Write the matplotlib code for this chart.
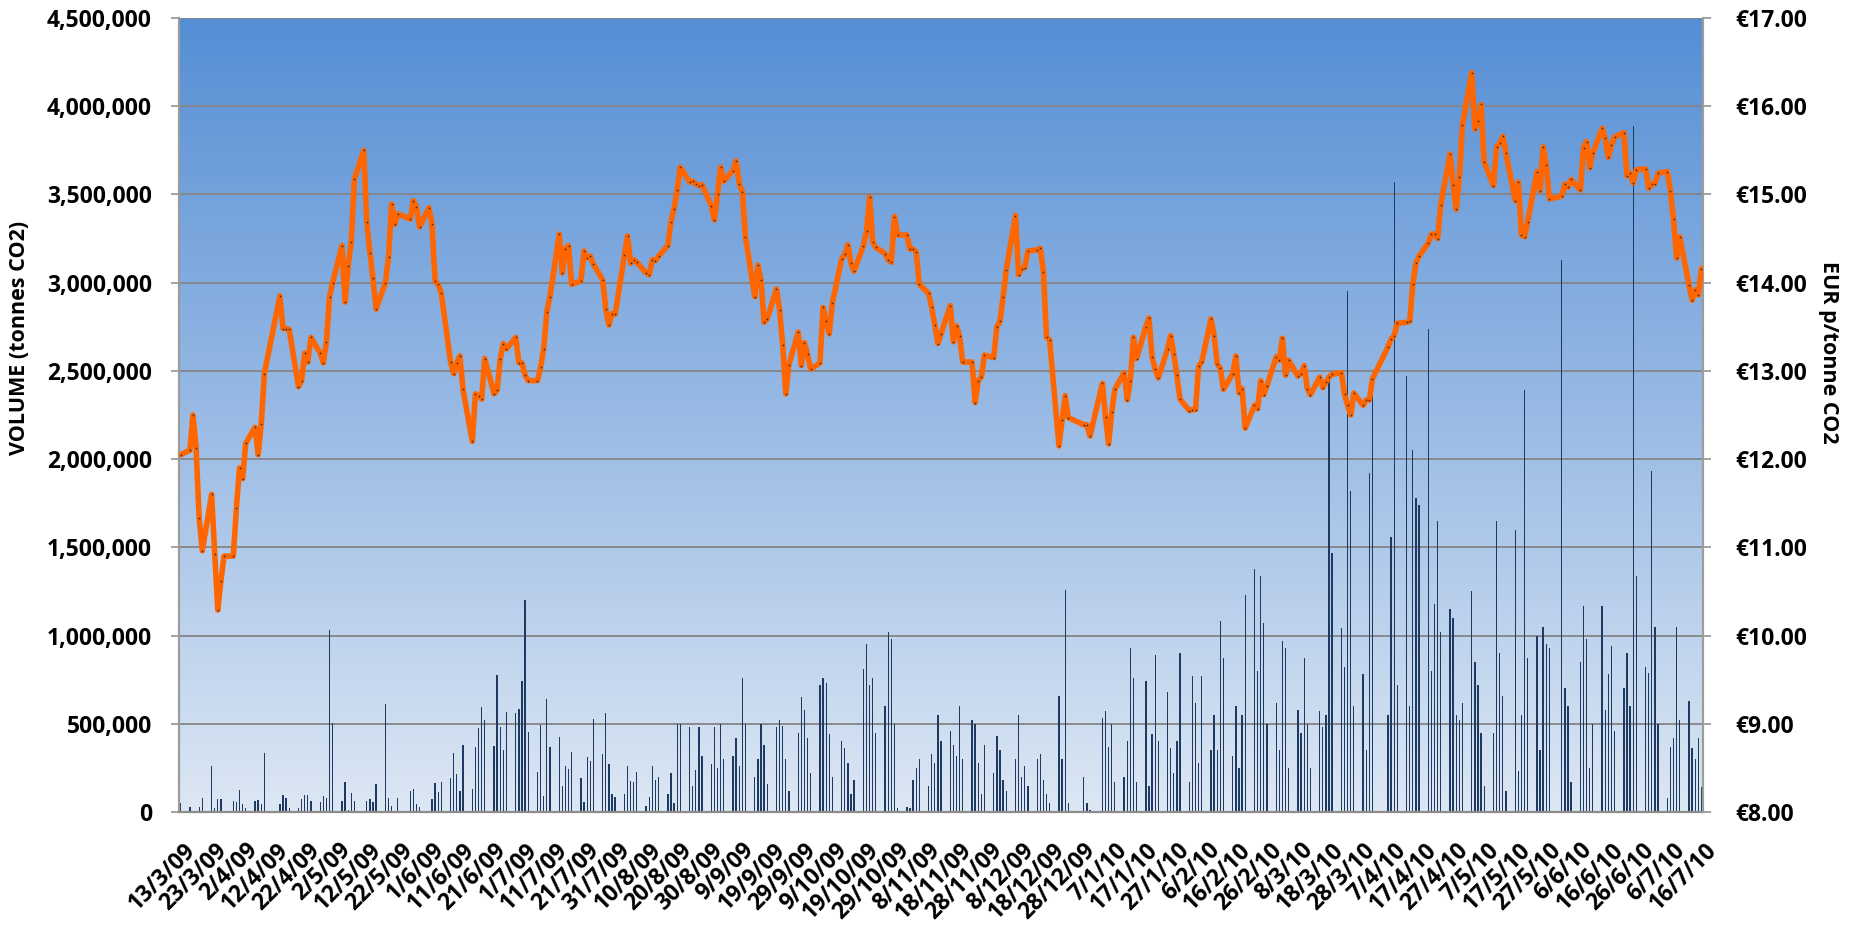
import numpy as np
import pandas as pd
import matplotlib
matplotlib.use("Agg")
import matplotlib.pyplot as plt
import matplotlib.dates as mdates
import matplotlib.transforms as mtransforms
from matplotlib.ticker import FuncFormatter
from matplotlib import font_manager

# pick a bold-capable family
_fams = {f.name: [] for f in font_manager.fontManager.ttflist}
for f in font_manager.fontManager.ttflist:
    _fams[f.name].append(f.weight)
FAMILY = 'DejaVu Sans'
for cand in ['Open Sans', 'Lato', 'Noto Sans', 'Roboto', 'Liberation Sans']:
    ws = _fams.get(cand, [])
    if any((w == 'bold') or (isinstance(w, int) and w >= 600) for w in ws):
        FAMILY = cand
        break
plt.rcParams['font.family'] = [FAMILY, 'DejaVu Sans']
plt.rcParams['font.weight'] = 'bold'

# ---------------- data (trading days, grouped per month) ----------------
start_date = '2009-03-13'
end_date = '2010-07-16'
holidays = ['2009-04-10', '2009-04-13', '2009-05-25', '2009-12-25', '2009-12-28',
            '2010-01-01', '2010-04-02', '2010-04-05', '2010-05-31']

# price, EUR per tonne CO2
price_2009_03 = [12.05, 12.10, 12.50, 12.13, 11.33, 10.96, 11.60, 10.93, 10.29, 10.62, 10.90, 10.90, 11.45]
price_2009_04 = [11.90, 11.78, 12.18, 12.36, 12.05, 12.40, 12.97, 13.85, 13.48, 13.48, 13.47, 12.82, 12.89,
                 13.20, 13.10, 13.38, 13.20, 13.09, 13.33, 13.84]
price_2009_05 = [14.00, 14.42, 13.78, 14.19, 14.46, 15.17, 15.50, 14.69, 14.34, 14.05, 13.70, 14.00, 14.29,
                 14.89, 14.66, 14.78, 14.72, 14.93, 14.86, 14.63]
price_2009_06 = [14.85, 14.67, 14.02, 13.98, 13.88, 13.10, 12.97, 13.09, 13.17, 12.79, 12.20, 12.74, 12.72,
                 12.68, 13.14, 12.74, 12.78, 13.14, 13.31, 13.25, 13.38, 13.09]
price_2009_07 = [13.09, 12.95, 12.89, 12.89, 13.04, 13.25, 13.67, 13.84, 14.55, 14.11, 14.38, 14.42, 13.98,
                 14.02, 14.36, 14.28, 14.30, 14.21, 14.03, 13.70, 13.52, 13.65, 13.64]
price_2009_08 = [14.31, 14.53, 14.22, 14.26, 14.23, 14.11, 14.09, 14.26, 14.25, 14.30, 14.42, 14.69, 14.84,
                 15.05, 15.31, 15.14, 15.15, 15.12, 15.10, 15.11, 14.87]
price_2009_09 = [14.71, 15.00, 15.31, 15.15, 15.27, 15.38, 15.12, 15.03, 14.52, 13.84, 14.20, 14.03, 13.55,
                 13.59, 13.93, 13.69, 13.29, 12.74, 13.07, 13.44, 13.06, 13.32]
price_2009_10 = [13.19, 13.02, 13.09, 13.72, 13.56, 13.42, 13.77, 14.27, 14.32, 14.43, 14.22, 14.13, 14.42,
                 14.58, 14.97, 14.46, 14.40, 14.33, 14.26, 14.23, 14.75, 14.54]
price_2009_11 = [14.54, 14.38, 14.38, 14.35, 13.98, 13.88, 13.72, 13.52, 13.31, 13.42, 13.74, 13.33, 13.51,
                 13.39, 13.10, 13.10, 12.64, 12.89, 12.93, 13.18, 13.15]
price_2009_12 = [13.50, 13.56, 13.84, 14.14, 14.76, 14.09, 14.16, 14.17, 14.36, 14.37, 14.39, 14.12, 13.38,
                 13.35, 12.15, 12.44, 12.72, 12.47, 12.39, 12.39, 12.26]
price_2010_01 = [12.86, 12.48, 12.17, 12.53, 12.79, 12.98, 12.67, 12.89, 13.38, 13.14, 13.50, 13.60, 13.16,
                 13.02, 12.92, 13.25, 13.40, 13.19, 12.95, 12.68]
price_2010_02 = [12.55, 12.56, 12.56, 13.05, 13.10, 13.59, 13.40, 13.08, 13.03, 12.79, 12.97, 13.17, 12.75,
                 12.80, 12.35, 12.61, 12.57, 12.89, 12.73, 12.83]
price_2010_03 = [13.16, 13.12, 13.37, 12.95, 13.12, 12.94, 12.97, 13.06, 12.80, 12.73, 12.93, 12.81, 12.87,
                 12.93, 12.96, 12.98, 12.74, 12.61, 12.50, 12.75, 12.61, 12.67, 12.67]
price_2010_04 = [12.91, 13.27, 13.36, 13.40, 13.54, 13.55, 13.56, 13.98, 14.22, 14.30, 14.45, 14.55, 14.55,
                 14.50, 14.88, 15.46, 15.11, 14.83, 15.20, 15.79]
price_2010_05 = [16.38, 15.74, 15.83, 16.02, 15.37, 15.10, 15.54, 15.58, 15.66, 15.47, 14.93, 15.14, 14.54,
                 14.52, 14.69, 15.26, 15.04, 15.54, 15.33, 14.95]
price_2010_06 = [14.98, 15.12, 15.08, 15.17, 15.05, 15.53, 15.60, 15.30, 15.47, 15.75, 15.64, 15.42, 15.56,
                 15.65, 15.70, 15.21, 15.24, 15.13, 15.28, 15.29, 15.07, 15.12]
price_2010_07 = [15.12, 15.24, 15.26, 15.04, 14.72, 14.28, 14.52, 13.97, 13.80, 13.92, 13.86, 14.16]

# volume, million tonnes CO2
volume_2009_03 = [0.053, 0.028, 0.008, 0.008, 0.028, 0.078, 0.263, 0.020, 0.074, 0.074, 0.0, 0.062, 0.059]
volume_2009_04 = [0.125, 0.043, 0.020, 0.062, 0.068, 0.047, 0.336, 0.047, 0.096, 0.081, 0.021, 0.021, 0.076,
                  0.096, 0.098, 0.062, 0.059, 0.091, 0.079, 1.030]
volume_2009_05 = [0.503, 0.062, 0.172, 0.011, 0.106, 0.062, 0.008, 0.062, 0.076, 0.059, 0.159, 0.612, 0.078,
                  0.034, 0.0, 0.078, 0.119, 0.130, 0.045, 0.030]
volume_2009_06 = [0.0, 0.072, 0.163, 0.112, 0.170, 0.195, 0.333, 0.215, 0.119, 0.378, 0.130, 0.369, 0.476,
                  0.594, 0.520, 0.374, 0.775, 0.484, 0.350, 0.569, 0.563, 0.584]
volume_2009_07 = [0.745, 1.202, 0.452, 0.227, 0.493, 0.091, 0.643, 0.369, 0.425, 0.149, 0.263, 0.242, 0.342,
                  0.193, 0.057, 0.310, 0.289, 0.526, 0.329, 0.560, 0.270, 0.102, 0.085]
volume_2009_08 = [0.102, 0.261, 0.176, 0.172, 0.229, 0.036, 0.085, 0.26, 0.18, 0.20, 0.10, 0.22, 0.05,
                  0.50, 0.50, 0.48, 0.15, 0.24, 0.48, 0.32, 0.27]
volume_2009_09 = [0.48, 0.25, 0.50, 0.30, 0.32, 0.42, 0.26, 0.76, 0.50, 0.20, 0.30, 0.50, 0.38,
                  0.16, 0.48, 0.52, 0.49, 0.30, 0.12, 0.45, 0.65, 0.58]
volume_2009_10 = [0.42, 0.22, 0.72, 0.76, 0.73, 0.44, 0.20, 0.40, 0.36, 0.28, 0.10, 0.18, 0.81,
                  0.95, 0.72, 0.76, 0.45, 0.60, 1.02, 0.98, 0.50, 0.02]
volume_2009_11 = [0.03, 0.02, 0.18, 0.25, 0.30, 0.15, 0.33, 0.28, 0.55, 0.40, 0.46, 0.38, 0.32,
                  0.60, 0.30, 0.52, 0.50, 0.28, 0.10, 0.38, 0.22]
volume_2009_12 = [0.43, 0.35, 0.18, 0.12, 0.30, 0.55, 0.20, 0.26, 0.15, 0.30, 0.33, 0.18, 0.10,
                  0.05, 0.66, 0.30, 1.26, 0.05, 0.20, 0.05, 0.01]
volume_2010_01 = [0.53, 0.57, 0.37, 0.50, 0.17, 0.20, 0.40, 0.93, 0.76, 0.17, 0.74, 0.15, 0.44,
                  0.89, 0.40, 0.68, 0.36, 0.22, 0.40, 0.90]
volume_2010_02 = [0.17, 0.77, 0.62, 0.28, 0.77, 0.35, 0.55, 0.35, 1.08, 0.87, 0.32, 0.60, 0.25,
                  0.55, 1.23, 1.38, 0.80, 1.34, 1.07, 0.50]
volume_2010_03 = [0.62, 0.35, 0.97, 0.93, 0.25, 0.58, 0.45, 0.87, 0.50, 0.25, 0.57, 0.48, 0.55,
                  2.44, 1.47, 1.04, 0.82, 2.95, 1.82, 0.60, 0.78, 0.35, 1.92]
volume_2010_04 = [2.40, 0.55, 1.56, 3.57, 0.72, 2.47, 0.60, 2.05, 1.78, 1.74, 2.74, 0.80, 1.18,
                  1.65, 1.02, 1.15, 1.10, 0.55, 0.52, 0.62]
volume_2010_05 = [1.25, 0.85, 0.72, 0.45, 0.15, 0.45, 1.65, 0.90, 0.66, 0.12, 1.60, 0.23, 0.55,
                  2.39, 0.87, 1.00, 0.35, 1.05, 0.95, 0.93]
volume_2010_06 = [3.13, 0.70, 0.60, 0.17, 0.85, 1.17, 0.98, 0.25, 0.50, 1.17, 0.58, 0.78, 0.94,
                  0.46, 0.70, 0.90, 0.60, 3.89, 1.34, 0.82, 0.79, 1.93]
volume_2010_07 = [1.05, 0.50, 0.08, 0.37, 0.42, 1.05, 0.52, 0.63, 0.36, 0.30, 0.42, 0.14]

price_months = [price_2009_03, price_2009_04, price_2009_05, price_2009_06, price_2009_07, price_2009_08,
                price_2009_09, price_2009_10, price_2009_11, price_2009_12, price_2010_01, price_2010_02,
                price_2010_03, price_2010_04, price_2010_05, price_2010_06, price_2010_07]
volume_months = [volume_2009_03, volume_2009_04, volume_2009_05, volume_2009_06, volume_2009_07,
                 volume_2009_08, volume_2009_09, volume_2009_10, volume_2009_11, volume_2009_12,
                 volume_2010_01, volume_2010_02, volume_2010_03, volume_2010_04, volume_2010_05,
                 volume_2010_06, volume_2010_07]

left_ticks = [0, 500000, 1000000, 1500000, 2000000, 2500000, 3000000, 3500000, 4000000, 4500000]
right_ticks = [8, 9, 10, 11, 12, 13, 14, 15, 16, 17]

# ---------------- assemble dates ----------------
days = pd.bdate_range(start_date, end_date)
days = days[~days.isin(pd.to_datetime(holidays))]
dates, prices, volumes = [], [], []
for pm, vm in zip(price_months, volume_months):
    ym = days[len(dates)]
    mdays = [d for d in days if d.year == ym.year and d.month == ym.month]
    n = min(len(mdays), len(pm), len(vm))
    dates.extend(mdays[:n])
    prices.extend(pm[:n])
    volumes.extend(vm[:n])
    if len(mdays) > n:
        dates.extend(mdays[n:])
        prices.extend([np.nan] * (len(mdays) - n))
        volumes.extend([0.0] * (len(mdays) - n))

x = mdates.date2num(pd.to_datetime(dates).to_pydatetime())
prices = np.array(prices, dtype=float)
volumes = np.array(volumes, dtype=float) * 1e6

# ---------------- figure ----------------
W, H = 1852, 925
fig = plt.figure(figsize=(W / 100, H / 100), dpi=100)
L, R, T, B = 179, 1703, 18, 812
ax = fig.add_axes([L / W, 1 - B / H, (R - L) / W, (B - T) / H])
ax.set_facecolor('none')

x0 = mdates.date2num(pd.Timestamp(start_date).to_pydatetime()) - 0.5
x1 = mdates.date2num(pd.Timestamp(end_date).to_pydatetime()) + 0.5

# gradient background
g = np.linspace(0, 1, 300).reshape(-1, 1, 1)
top_c = np.array([85, 142, 213]) / 255.0
bot_c = np.array([221, 231, 244]) / 255.0
img = top_c + (bot_c - top_c) * g
ax.imshow(img, extent=[x0, x1, 0, 4500000], aspect='auto', origin='upper', zorder=0,
          interpolation='bilinear')

ax.set_xlim(x0, x1)
ax.set_ylim(0, 4500000)
ax.set_axisbelow(True)
ax.yaxis.grid(True, color='#858585', linewidth=1.3)
ax.xaxis.grid(False)

ax.bar(x, volumes, width=0.42, color='#1F3A60', linewidth=0, zorder=2)

ax2 = ax.twinx()
ax2.set_ylim(8, 17)
ax2.set_xlim(x0, x1)
ax2.plot(x, prices, color='#FF6600', linewidth=4.0, solid_joinstyle='round',
         solid_capstyle='round', zorder=3)
ax2.plot(x, prices, linestyle='none', marker='s', markersize=1.1, markerfacecolor='#2a2a2a',
         markeredgewidth=0, zorder=4)

# axes styling
for a in (ax, ax2):
    a.spines['top'].set_visible(False)
ax.spines['right'].set_visible(False)
ax2.spines['left'].set_visible(False)
ax2.spines['bottom'].set_visible(False)
ax.spines['left'].set_color('#9c9c9c')
ax.spines['left'].set_linewidth(1.6)
ax.spines['bottom'].set_color('#8c8c8c')
ax.spines['bottom'].set_linewidth(1.6)
ax2.spines['right'].set_color('#9c9c9c')
ax2.spines['right'].set_linewidth(1.6)

ax.set_yticks(left_ticks)
ax.yaxis.set_major_formatter(FuncFormatter(lambda v, p: f"{int(v):,}"))
ax.tick_params(axis='y', direction='out', length=5.5, width=1.3, color='#9c9c9c',
               labelsize=16.5, pad=14)
ax2.set_yticks(right_ticks)
ax2.yaxis.set_major_formatter(FuncFormatter(lambda v, p: f"\u20ac{v:.2f}"))
ax2.tick_params(axis='y', direction='out', length=6, width=1.3, color='#9c9c9c',
                labelsize=16.5, pad=17)
for lab in ax.get_yticklabels() + ax2.get_yticklabels():
    lab.set_fontweight('bold')

tick_dates = pd.date_range(start_date, end_date, freq='10D')
ax.set_xticks(mdates.date2num(tick_dates.to_pydatetime()))
ax.set_xticklabels([f"{d.day}/{d.month}/{d:%y}" for d in tick_dates], rotation=45,
                   ha='right', va='top', rotation_mode='anchor', fontweight='bold')
ax.tick_params(axis='x', length=0, labelsize=16.5, pad=19)
offset = mtransforms.ScaledTranslation(3 / 100, 0, fig.dpi_scale_trans)
for lab in ax.get_xticklabels():
    lab.set_transform(lab.get_transform() + offset)

fig.text(20 / W, 1 - 338 / H, 'VOLUME (tonnes CO2)', rotation=90, ha='center', va='center',
         fontsize=15.5, fontweight='bold')
fig.text(1828 / W, 1 - 352 / H, 'EUR p/tonne CO2', rotation=270, ha='center', va='center',
         fontsize=15.5, fontweight='bold')

fig.savefig('out.png', dpi=100, facecolor='white')
